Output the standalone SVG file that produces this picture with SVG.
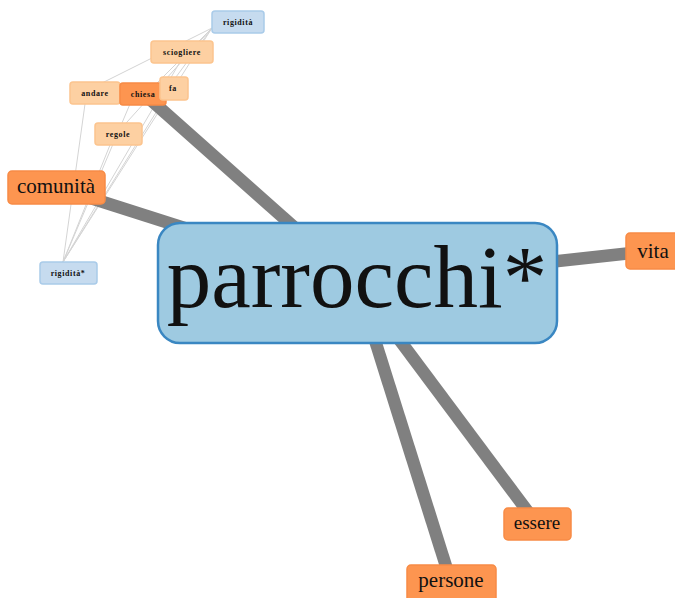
<svg xmlns="http://www.w3.org/2000/svg" width="675" height="598" viewBox="0 0 675 598">
  <style>
    .thin { stroke: #d4d4d4; stroke-width: 1; fill: none; }
    .thick { stroke: #808080; stroke-width: 12.5; fill: none; }
    .hub rect { fill: #9ecae1; stroke: #3a87c2; stroke-width: 2.5; }
    .hot rect { fill: #fd9550; stroke: #f78b45; stroke-width: 1.5; }
    .warm rect { fill: #fdd0a2; stroke: #fcc48e; stroke-width: 1.5; }
    .cool rect { fill: #c6dbef; stroke: #a9cbe9; stroke-width: 1.5; }
    text { font-family: "Liberation Serif", "DejaVu Serif", serif; fill: #111; text-anchor: middle; }
    .sm { font-size: 8px; letter-spacing: 0.6px; font-weight: bold; }
    .md { font-size: 19px; }
    .lg { font-size: 21px; }
  </style>

  <g id="connectors">
    <!-- weak links among the secondary terms -->
    <line class="thin" x1="212" y1="28" x2="100" y2="84"/>
    <line class="thin" x1="212" y1="28" x2="140" y2="100"/>
    <line class="thin" x1="212" y1="28" x2="165" y2="92"/>
    <line class="thin" x1="212" y1="28" x2="118" y2="132"/>
    <line class="thin" x1="212" y1="28" x2="63" y2="262"/>
    <line class="thin" x1="63" y1="262" x2="85" y2="104"/>
    <line class="thin" x1="63" y1="262" x2="130" y2="104"/>
    <line class="thin" x1="63" y1="262" x2="165" y2="98"/>
    <line class="thin" x1="63" y1="262" x2="180" y2="62"/>
    <line class="thin" x1="63" y1="262" x2="112" y2="140"/>
    <!-- strong links to the hub -->
    <line class="thick" x1="357" y1="283" x2="143" y2="93"/>
    <line class="thick" x1="357" y1="283" x2="56" y2="187"/>
    <line class="thick" x1="357" y1="283" x2="650" y2="251"/>
    <line class="thick" x1="357" y1="283" x2="451" y2="582"/>
    <line class="thick" x1="357" y1="283" x2="537" y2="524"/>
  </g>

  <g id="node-rigidita" class="cool">
    <rect x="212" y="11" width="52" height="22" rx="3"/>
    <text class="sm" x="238" y="25">rigidità</text>
  </g>
  <g id="node-sciogliere" class="warm">
    <rect x="151" y="41" width="62" height="22" rx="3"/>
    <text class="sm" x="182" y="55">sciogliere</text>
  </g>
  <g id="node-andare" class="warm">
    <rect x="70" y="82" width="50" height="22" rx="3"/>
    <text class="sm" x="95" y="96">andare</text>
  </g>
  <g id="node-chiesa" class="hot">
    <rect x="120" y="83" width="46" height="22" rx="3"/>
    <text class="sm" x="143" y="97">chiesa</text>
  </g>
  <g id="node-fa" class="warm">
    <rect x="160" y="77" width="28" height="23" rx="3"/>
    <text class="sm" x="173" y="91">fa</text>
  </g>
  <g id="node-regole" class="warm">
    <rect x="95" y="123" width="47" height="22" rx="3"/>
    <text class="sm" x="118" y="137">regole</text>
  </g>
  <g id="node-rigidita-star" class="cool">
    <rect x="40" y="262" width="57" height="22" rx="3"/>
    <text class="sm" x="68" y="276">rigidità*</text>
  </g>
  <g id="node-comunita" class="hot">
    <rect x="8" y="171" width="97" height="33" rx="4"/>
    <text class="lg" x="56" y="193">comunità</text>
  </g>
  <g id="node-vita" class="hot">
    <rect x="626" y="233" width="54" height="36" rx="4"/>
    <text class="lg" x="653" y="258">vita</text>
  </g>
  <g id="node-essere" class="hot">
    <rect x="504" y="508" width="67" height="32" rx="4"/>
    <text class="md" x="537" y="529">essere</text>
  </g>
  <g id="node-persone" class="hot">
    <rect x="407" y="565" width="89" height="40" rx="4"/>
    <text class="lg" x="451" y="587">persone</text>
  </g>

  <g id="node-parrocchi" class="hub">
    <rect x="158" y="223" width="399" height="120" rx="22"/>
    <text x="357" y="307" style="font-size:89px">parrocchi*</text>
  </g>
</svg>
